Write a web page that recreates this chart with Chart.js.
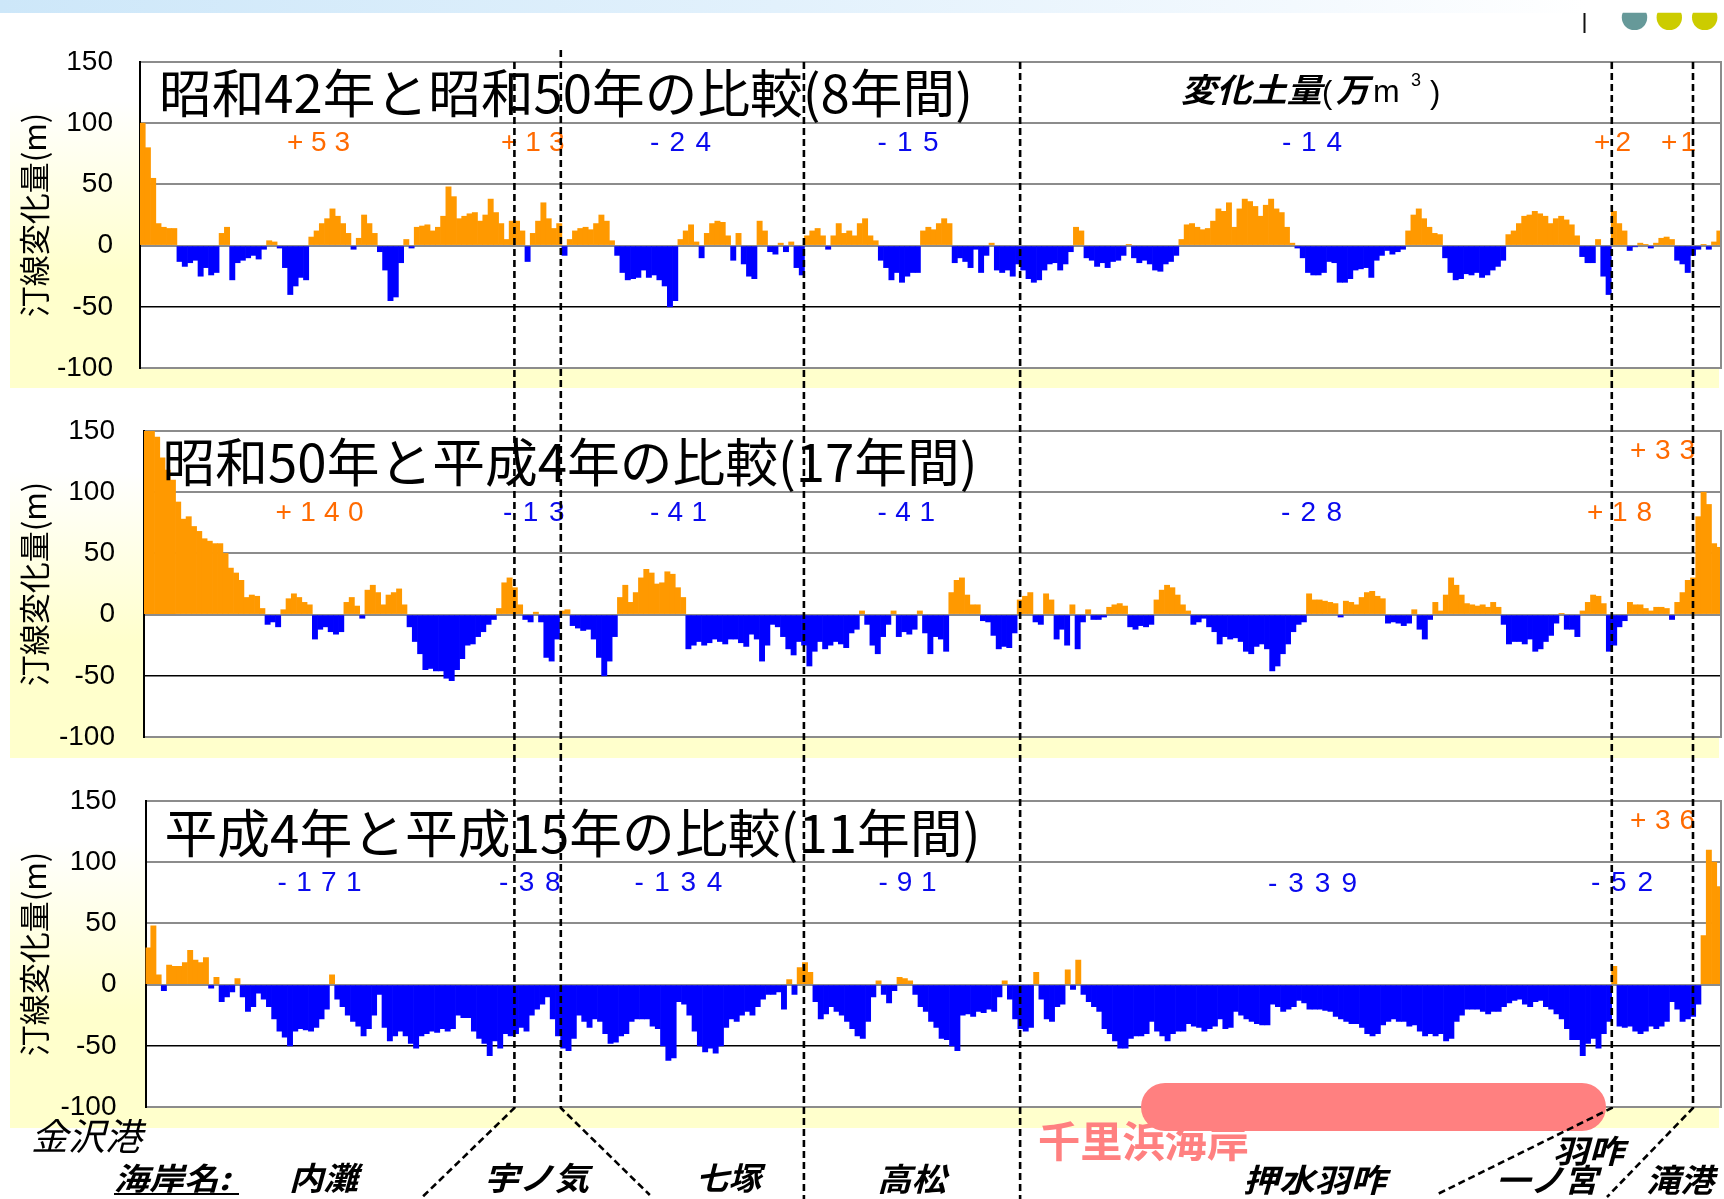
<!DOCTYPE html>
<html lang="ja">
<head>
<meta charset="utf-8">
<title>汀線変化量の比較</title>
<script src="https://cdn.jsdelivr.net/npm/chart.js@4.4.1/dist/chart.umd.min.js"></script>
<style>
  html, body { margin: 0; padding: 0; background: #fff; }
  #stage { position: relative; width: 1724px; height: 1199px; overflow: hidden; background: #fff; }
  .topband { position: absolute; left: 0; top: 0; width: 1724px; height: 13px;
    background: linear-gradient(to right, #cde7f9 0%, #e2f1fc 45%, #f3f9fe 75%, #ffffff 92%); }
  .yel { position: absolute; left: 10px; width: 1709px; height: 287px;
    background: linear-gradient(to bottom, rgba(255,255,204,0) 0%, #ffffcc 60%, #ffffcc 100%); }
  canvas.panel { position: absolute; left: 0; }
  #ovl { position: absolute; left: 0; top: 0; pointer-events: none; }
</style>
</head>
<body>
<div id="stage">
  <div class="topband"></div>
  <div class="yel" style="top:101px"></div>
  <div class="yel" style="top:471px"></div>
  <div class="yel" style="top:841px"></div>
  <canvas id="p1" class="panel" width="1724" height="406" style="top:12px"></canvas>
  <canvas id="p2" class="panel" width="1724" height="406" style="top:381px"></canvas>
  <canvas id="p3" class="panel" width="1724" height="406" style="top:751px"></canvas>
  <svg id="ovl" width="1724" height="1199" xmlns="http://www.w3.org/2000/svg"></svg>
</div>
<script>
// Shoreline change (m) per survey line, from 金沢港 (left) to 滝港 (right)
const change_S42_S50 = [
  100, 80, 55, 18, 15, 14, 14, -13, -17, -14, -12, -25, -18, -24, -22, 10, 15, -28, -14, -12,
  -10, -8, -11, -3, 4, 3, -2, -18, -40, -33, -26, -28, 7, 12, 18, 22, 30, 24, 18, 10,
  -3, 6, 25, 18, 10, -5, -20, -45, -42, -14, 5, -2, 15, 16, 17, 12, 15, 24, 48, 40,
  22, 24, 26, 27, 20, 25, 38, 27, 18, 5, 20, 20, 12, -13, 10, 20, 35, 22, 14, 18,
  -8, 5, 12, 14, 15, 13, 18, 25, 20, 4, -8, -22, -28, -27, -26, -20, -26, -24, -28, -33,
  -50, -45, 5, 12, 17, 3, -10, 10, 18, 20, 19, 8, -12, 10, -15, -25, -27, 20, 12, -5,
  -7, 2, -5, 3, -18, -24, 8, 12, 14, 8, -3, 8, 18, 10, 12, 8, 18, 22, 8, 4,
  -12, -18, -28, -22, -30, -25, -22, -22, 12, 15, 13, 18, 22, 18, -14, -10, -13, -18, -3, -22,
  -8, 2, -20, -22, -20, -25, -15, -20, -27, -30, -28, -20, -15, -14, -20, -15, -5, 15, 12, -10,
  -12, -17, -14, -18, -13, -12, -8, 1, -10, -14, -12, -15, -20, -21, -15, -13, -8, 5, 17, 18,
  15, 13, 14, 20, 30, 28, 35, 15, 30, 38, 36, 32, 24, 33, 38, 30, 27, 15, 2, -2,
  -10, -22, -24, -24, -22, -13, -14, -30, -30, -27, -20, -19, -18, -26, -12, -8, -4, -7, -5, -3,
  12, 25, 30, 22, 15, 10, 9, -10, -22, -28, -27, -23, -24, -22, -26, -24, -20, -17, -12, 9,
  12, 18, 24, 25, 28, 26, 24, 18, 22, 24, 21, 17, 8, -9, -14, -14, 5, -25, -40, 28,
  18, 12, -4, -1, 2, 1, -2, 2, 6, 7, 5, -12, -15, -22, -8, -3, 1, -3, 3, 12
];
const change_S50_H4 = [
  150, 150, 145, 128, 118, 110, 92, 78, 80, 72, 68, 62, 60, 58, 58, 50, 38, 34, 28, 14,
  16, 15, 5, -8, -6, -10, 4, 13, 17, 14, 10, 8, -20, -12, -10, -14, -16, -14, 10, 14,
  7, -3, 20, 24, 18, 8, 16, 18, 21, 8, -10, -22, -32, -45, -44, -46, -46, -52, -54, -45,
  -36, -25, -24, -18, -14, -8, -4, 5, 26, 30, 22, 8, -4, -6, 2, -6, -35, -38, -20, 3,
  4, -9, -11, -13, -12, -20, -35, -50, -38, -18, 14, 24, 10, 18, 30, 37, 34, 25, 26, 35,
  33, 22, 14, -28, -25, -22, -25, -23, -20, -22, -24, -20, -20, -23, -26, -16, -20, -38, -25, -8,
  -10, -18, -28, -33, -22, -25, -42, -30, -22, -28, -25, -22, -24, -27, -15, -12, 3, -8, -25, -32,
  -18, -8, 3, -18, -14, -16, -12, 3, -15, -32, -18, -20, -30, 18, 28, 30, 16, 8, 8, -5,
  -6, -17, -28, -26, -27, -15, 12, 15, 18, -6, -8, 17, 12, -20, -12, -25, 8, -28, -6, 4,
  -4, -4, -2, 6, 8, 9, 7, -10, -12, -9, -10, -8, 12, 20, 24, 22, 16, 8, 3, -8,
  -6, -3, -10, -14, -24, -18, -20, -19, -22, -30, -32, -26, -24, -28, -46, -42, -32, -24, -14, -8,
  -6, 17, 12, 12, 11, 10, 9, -2, 11, 10, 8, 14, 18, 19, 15, 13, -7, -6, -7, -9,
  -7, 4, -12, -20, -4, 10, 3, 16, 30, 24, 16, 9, 8, 7, 8, 6, 10, 6, -8, -24,
  -22, -22, -24, -20, -30, -28, -22, -17, -7, 1, -12, -12, -18, 3, 10, 16, 15, 9, -30, -25,
  -10, -5, 10, 8, 8, 5, 3, 6, 6, 5, -4, 10, 18, 28, 30, 80, 100, 90, 58, 55
];
const change_H4_H15 = [
  30, 48, 8, -5, 16, 15, 15, 18, 28, 20, 18, 22, -3, 6, -14, -10, -6, 5, -10, -22,
  -18, -7, -12, -18, -28, -38, -43, -50, -38, -36, -37, -38, -35, -28, -20, 8, -12, -18, -25, -30,
  -34, -42, -36, -25, -8, -35, -46, -42, -38, -42, -48, -52, -42, -40, -38, -39, -36, -38, -36, -25,
  -27, -27, -38, -44, -48, -58, -46, -52, -40, -42, -40, -35, -38, -25, -20, -16, -10, -28, -42, -52,
  -54, -44, -25, -30, -35, -28, -30, -40, -48, -47, -42, -40, -30, -28, -28, -28, -34, -36, -50, -62,
  -60, -14, -16, -25, -38, -50, -55, -52, -56, -50, -35, -28, -30, -25, -22, -25, -18, -12, -8, -8,
  -6, -20, 4, -8, 14, 18, 10, -14, -28, -24, -18, -22, -25, -30, -36, -42, -44, -30, -10, 3,
  -8, -15, -5, 6, 5, 3, -8, -18, -22, -30, -35, -44, -45, -50, -54, -25, -24, -26, -22, -23,
  -20, -22, -10, 3, -12, -28, -36, -38, -35, 10, -12, -28, -30, -18, -16, 12, -4, 20, -8, -14,
  -18, -22, -36, -40, -46, -52, -52, -44, -42, -42, -40, -30, -38, -42, -46, -40, -38, -38, -32, -34,
  -35, -38, -36, -34, -28, -36, -35, -22, -25, -28, -30, -32, -33, -33, -16, -18, -22, -20, -18, -13,
  -15, -20, -20, -20, -21, -22, -26, -28, -30, -32, -32, -35, -40, -42, -40, -33, -30, -28, -30, -30,
  -34, -33, -38, -42, -40, -42, -40, -46, -44, -30, -25, -20, -20, -20, -22, -24, -22, -22, -18, -15,
  -13, -12, -16, -18, -14, -13, -18, -20, -24, -28, -36, -45, -45, -58, -48, -44, -52, -40, -30, 15,
  -34, -35, -34, -38, -40, -38, -34, -36, -34, -30, -14, -20, -30, -28, -26, -16, 40, 110, 100, 80
];

// Coast section boundaries, in survey-line index units
const sectionBounds = [70.5, 79.3, 125.4, 166.4, 278.6, 294.0];

// Sediment volume change per section (万m3)
const vol_S42_S50 = ['+53', '+13', '-24', '-15', '-14', '+2', '+1'];
const vol_S50_H4  = ['+140', '-13', '-41', '-41', '-28', '+18', '+33'];
const vol_H4_H15  = ['-171', '-38', '-134', '-91', '-339', '-52', '+36'];

const panelTitles = [
  '昭和42年と昭和50年の比較(8年間)',
  '昭和50年と平成4年の比較(17年間)',
  '平成4年と平成15年の比較(11年間)'
];
const coastNames = ['内灘', '宇ノ気', '七塚', '高松', '押水羽咋', '羽咋', '一ノ宮', '滝港'];

const ORANGE = '#FF9900', BLUE = '#0000FF';
const LABEL_UP = '#FF6A00', LABEL_DOWN = '#0A0AEE';

// white plot area with a grey right edge
const plotFrame = {
  id: 'plotFrame',
  beforeDraw(chart) {
    const a = chart.chartArea, c = chart.ctx;
    c.save(); c.fillStyle = '#fff';
    c.fillRect(a.left, a.top, a.right - a.left, a.bottom - a.top);
    c.restore();
  },
  afterDraw(chart) {
    const a = chart.chartArea, c = chart.ctx;
    c.save(); c.strokeStyle = '#8c8c8c'; c.lineWidth = 2;
    c.beginPath(); c.moveTo(a.right - 1, a.top); c.lineTo(a.right - 1, a.bottom); c.stroke();
    c.restore();
  }
};

function makePanel(id, values, plotLeft, tickPad) {
  const labels = values.map((_, i) => i + 1);
  return new Chart(document.getElementById(id), {
    type: 'bar',
    data: {
      labels,
      datasets: [{
        data: values,
        backgroundColor: ctx => (ctx.raw >= 0 ? ORANGE : BLUE),
        barPercentage: 1,
        categoryPercentage: 1,
        borderWidth: 0
      }]
    },
    options: {
      responsive: false,
      animation: false,
      devicePixelRatio: 1,
      layout: { padding: { left: 0, right: 2, top: 50, bottom: 50 } },
      plugins: { legend: { display: false }, tooltip: { enabled: false } },
      scales: {
        x: { display: false },
        y: {
          min: -100, max: 150,
          afterFit(scale) { scale.width = plotLeft; },
          ticks: {
            stepSize: 50, padding: tickPad, color: '#000',
            font: { family: 'Liberation Sans', size: 28 }
          },
          grid: {
            drawTicks: false,
            color: c => (c.tick && c.tick.value === -50 ? '#000' : '#8c8c8c'),
            lineWidth: c => (c.tick && c.tick.value === -50 ? 1.5 : 2)
          },
          border: { display: true, color: '#000', width: 2 },
          title: {
            display: true, text: '汀線変化量(m)', color: '#000',
            font: { family: 'Noto Sans CJK JP', size: 31 },
            padding: { top: 16, bottom: 0 }
          }
        }
      }
    },
    plugins: [plotFrame]
  });
}

const chart1 = makePanel('p1', change_S42_S50, 140, 27);
const chart2 = makePanel('p2', change_S50_H4, 144, 29);
const chart3 = makePanel('p3', change_H4_H15, 145.5, 29);

// ---- annotation layer ----
const NS = 'http://www.w3.org/2000/svg';
const svg = document.getElementById('ovl');
function el(tag, attrs, text) {
  const e = document.createElementNS(NS, tag);
  for (const k in attrs) e.setAttribute(k, attrs[k]);
  if (text != null) e.textContent = text;
  svg.appendChild(e);
  return e;
}
const CJK = "'Noto Sans CJK JP', sans-serif";
const SANS = "'Liberation Sans', Arial, sans-serif";

// header ornaments
el('line', { x1: 1584.5, y1: 13, x2: 1584.5, y2: 33, stroke: '#111', 'stroke-width': 2 });
const defs = el('defs', {});
const cp = document.createElementNS(NS, 'clipPath'); cp.setAttribute('id', 'hdrClip');
const cr = document.createElementNS(NS, 'rect');
cr.setAttribute('x', 1600); cr.setAttribute('y', 12.7); cr.setAttribute('width', 124); cr.setAttribute('height', 30);
cp.appendChild(cr); defs.appendChild(cp);
[[1634.5, '#669999'], [1669.3, '#CCCC00'], [1704.7, '#CCCC00']].forEach(([cx, col]) =>
  el('circle', { cx, cy: 17.4, r: 12.7, fill: col, 'clip-path': 'url(#hdrClip)' }));

// panel titles
const titleBoxes = [[159, 814, 113], [162.6, 815, 482], [164.5, 816, 853]];
panelTitles.forEach((t, i) => {
  const [x, w, y] = titleBoxes[i];
  el('text', { x, y, 'font-family': CJK, 'font-size': 52, fill: '#000',
    textLength: w, lengthAdjust: 'spacingAndGlyphs' }, t);
});

// unit caption
el('text', { x: 1181, y: 102, 'font-family': CJK, 'font-size': 33, 'font-weight': 'bold',
  'font-style': 'italic', fill: '#000', textLength: 141, lengthAdjust: 'spacingAndGlyphs' }, '変化土量');
el('text', { x: 1322, y: 103, 'font-family': SANS, 'font-size': 31, fill: '#000' }, '(');
el('text', { x: 1336, y: 102, 'font-family': CJK, 'font-size': 33, 'font-weight': 'bold',
  'font-style': 'italic', fill: '#000' }, '万');
el('text', { x: 1373, y: 102, 'font-family': SANS, 'font-size': 32, fill: '#000' }, 'm');
el('text', { x: 1411, y: 86, 'font-family': SANS, 'font-size': 18, fill: '#000' }, '3');
el('text', { x: 1430, y: 103, 'font-family': SANS, 'font-size': 31, fill: '#000' }, ')');

// section volume labels
const volBoxes = [
  [[287, 63, 151], [501, 63.5, 151], [650, 61, 151], [877.5, 61, 151], [1282, 60, 151], [1594, 37, 151], [1661, 35, 151]],
  [[275.5, 88, 521], [503, 61.5, 521], [650, 57, 521], [877.5, 57.5, 521], [1281, 61, 521], [1587, 65, 521], [1630, 65, 459]],
  [[277.5, 84, 891], [499, 61.5, 891], [634.4, 88, 891], [878.6, 58, 891], [1268, 89, 892], [1591, 62, 891], [1630, 65, 829]]
];
[vol_S42_S50, vol_S50_H4, vol_H4_H15].forEach((vols, p) => {
  vols.forEach((v, i) => {
    const [x, w, y] = volBoxes[p][i];
    el('text', { x, y, 'font-family': SANS, 'font-size': 28,
      fill: v.startsWith('+') ? LABEL_UP : LABEL_DOWN,
      textLength: w, lengthAdjust: 'spacing' }, v);
  });
});

// 千里浜海岸 band
el('rect', { x: 1141, y: 1083, width: 465, height: 48, rx: 24, ry: 24, fill: '#FF8080' });

// section boundary lines, placed with the panel scale
const xs = chart1.scales.x;
const dash = { stroke: '#000', 'stroke-width': 2.6, 'stroke-dasharray': '7 4', fill: 'none' };
const lineShapes = [
  { top: 62, bottom: 1108, tail: [-92, 89] },
  { top: 50, bottom: 1108, tail: [89, 87] },
  { top: 62, bottom: 1199, tail: null },
  { top: 62, bottom: 1199, tail: null },
  { top: 62, bottom: 1108, tail: [-176, 87] },
  { top: 62, bottom: 1108, tail: [-86, 89] }
];
sectionBounds.forEach((b, i) => {
  const x = xs.getPixelForValue(b);
  const s = lineShapes[i];
  let d = `M${x},${s.top} L${x},${s.bottom}`;
  if (s.tail) d += ` L${x + s.tail[0]},${s.bottom + s.tail[1]}`;
  el('path', Object.assign({ d }, dash));
});

// coast names
el('text', { x: 31, y: 1150, 'font-family': CJK, 'font-size': 37, 'font-style': 'italic',
  fill: '#000', textLength: 111, lengthAdjust: 'spacingAndGlyphs' }, '金沢港');
el('text', { x: 114, y: 1190, 'font-family': CJK, 'font-size': 31, 'font-weight': 'bold',
  'font-style': 'italic', fill: '#000', textLength: 116, lengthAdjust: 'spacingAndGlyphs' }, '海岸名:');
el('line', { x1: 114, y1: 1194, x2: 239, y2: 1194, stroke: '#000', 'stroke-width': 2 });
const nameBoxes = [[289, 69, 1190], [484, 105, 1190], [696, 65, 1190], [877, 69, 1191],
  [1243, 143, 1192], [1553, 71, 1163], [1496, 102, 1192], [1646, 68, 1192]];
coastNames.forEach((n, i) => {
  const [x, w, y] = nameBoxes[i];
  el('text', { x, y, 'font-family': CJK, 'font-size': 32, 'font-weight': 'bold',
    'font-style': 'italic', fill: '#000', textLength: w, lengthAdjust: 'spacingAndGlyphs' }, n);
});
el('text', { x: 1038, y: 1157, 'font-family': CJK, 'font-size': 42, 'font-weight': 'bold',
  fill: '#FF8080', textLength: 211, lengthAdjust: 'spacingAndGlyphs' }, '千里浜海岸');
</script>
</body>
</html>
